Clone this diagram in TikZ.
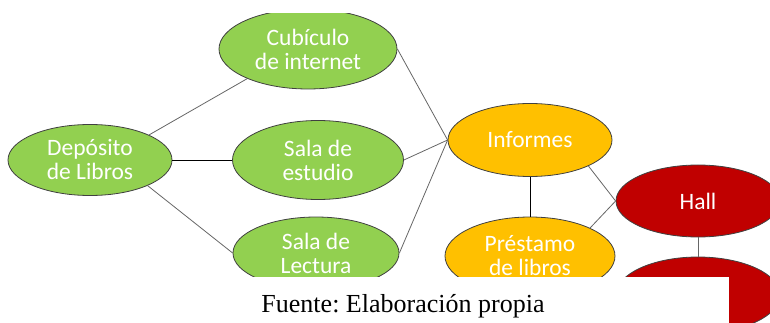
\documentclass[tikz,border=0pt]{standalone}
\usepackage{fontspec}
\setmainfont{Liberation Serif}
\newfontfamily\nodefont{Carlito}
\usetikzlibrary{shapes.geometric}
\definecolor{cgreen}{HTML}{92D050}
\definecolor{cyellow}{HTML}{FFC000}
\definecolor{cred}{HTML}{C00000}
\definecolor{cedge}{HTML}{404040}
\frenchspacing
\tikzset{
  oval/.style={ellipse, draw=cedge, line width=0.8pt, inner sep=0pt, text=white,
    align=center, font=\nodefont\fontsize{23.5}{24}\selectfont},
  gnode/.style={oval, fill=cgreen},
  ynode/.style={oval, fill=cyellow},
  rnode/.style={oval, fill=cred},
  link/.style={draw=black!60, line width=0.8pt},
  dlink/.style={draw=black, line width=0.8pt},
}
\begin{document}
\begin{tikzpicture}[x=1pt,y=-1pt]
\useasboundingbox (0,0) rectangle (770,323);
\begin{scope}
\clip (0,14) rectangle (770,323);
\node[gnode, minimum width=164pt, minimum height=71pt] (dep) at (90,160) {Depósito\\de Libros};
\node[gnode, minimum width=178pt, minimum height=80pt] (cub) at (308,49) {Cubículo\\de internet};
\node[gnode, minimum width=171pt, minimum height=79pt] (est) at (318,160) {Sala de\\estudio};
\node[gnode, minimum width=166pt, minimum height=72pt] (lec) at (316,253) {Sala de\\Lectura};
\node[ynode, minimum width=164pt, minimum height=73pt] (inf) at (530,140) {Informes};
\node[ynode, minimum width=170pt, minimum height=78pt] (pre) at (530,256) {Préstamo\\de libros};
\node[rnode, minimum width=164pt, minimum height=72pt] (hall) at (698,201) {Hall};
\node[rnode, minimum width=164pt, minimum height=76pt] (red2) at (698,295) {};
\draw[link] (dep.23) -- (cub.206);
\draw[dlink] (dep.east) -- (est.west);
\draw[link] (dep.-24) -- (lec.west);
\draw[link] (cub.east) -- (inf.west);
\draw[link] (est.east) -- (inf.west);
\draw[link] (lec.east) -- (inf.west);
\draw[dlink] (inf.south) -- (pre.north);
\draw[link] (inf.-24) -- (hall.west);
\draw[link] (pre.25) -- (hall.west);
\draw[link] (hall.south) -- (red2.north);
\end{scope}
\fill[white] (0,277) rectangle (729,323);
\node[anchor=base, font=\fontsize{26}{28}\selectfont, inner sep=0pt] (cap) at (403,312) {Fuente: Elaboración propia};
\end{tikzpicture}
\end{document}
